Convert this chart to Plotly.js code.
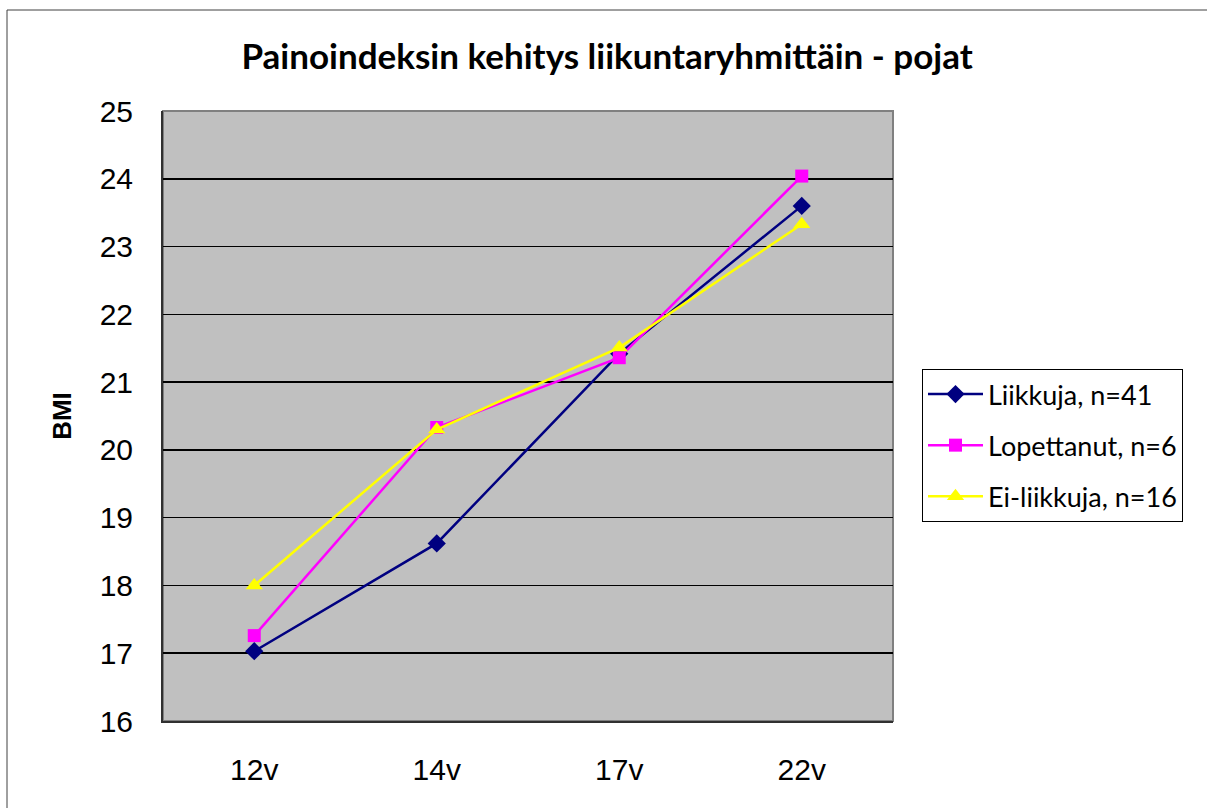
<!DOCTYPE html>
<html>
<head>
<meta charset="utf-8">
<script src="https://cdn.plot.ly/plotly-3.0.1.min.js"></script>
<style>html,body{margin:0;padding:0;background:#fff;}#chart{width:1207px;height:808px;}</style>
</head>
<body>
<div id="chart"></div>
<script>
const categories = ["12v", "14v", "17v", "22v"];
const liikkuja = [17.03, 18.62, 21.42, 23.60];
const lopettanut = [17.26, 20.33, 21.36, 24.04];
const eiLiikkuja = [18.00, 20.30, 21.51, 23.33];
const seriesNames = ["Liikkuja, n=41", "Lopettanut, n=6", "Ei-liikkuja, n=16"];
const yTicks = [16, 17, 18, 19, 20, 21, 22, 23, 24, 25];

const L = 163, R = 314, T = 111, B = 87, W = 730, H = 610;
const px = v => (v - L) / W;
const py = v => (808 - B - v) / H;

const traces = [
  {x: categories, y: liikkuja, name: seriesNames[0], type: 'scatter', mode: 'lines+markers',
   line: {color: '#000080', width: 2.5}, marker: {symbol: 'diamond', size: 14, color: '#000080'}, legendgroup: 'a'},
  {x: categories, y: lopettanut, name: seriesNames[1], type: 'scatter', mode: 'lines+markers',
   line: {color: '#FF00FF', width: 2.5}, marker: {symbol: 'square', size: 13, color: '#FF00FF'}, legendgroup: 'b'},
  {x: categories, y: eiLiikkuja, name: seriesNames[2], type: 'scatter', mode: 'lines+markers',
   line: {color: '#FFFF00', width: 2.5}, marker: {symbol: 'triangle-up', size: 15, color: '#FFFF00'}, legendgroup: 'c'}
];

const layout = {
  width: 1207, height: 808,
  margin: {l: L, r: R, t: T, b: B},
  paper_bgcolor: '#ffffff',
  plot_bgcolor: '#C0C0C0',
  title: {text: '<b>Painoindeksin kehitys liikuntaryhmittäin - pojat</b>',
          font: {family: 'Lato, Carlito, sans-serif', size: 35, color: '#000'},
          x: 0.503, xanchor: 'center', y: 1 - 57/808, yanchor: 'middle'},
  xaxis: {type: 'category', categoryorder: 'array', categoryarray: categories,
          range: [-0.5, 3.5], showgrid: false, zeroline: false,
          showline: true, linecolor: '#303030', linewidth: 2, ticks: '',
          ticklabelstandoff: 21,
          tickfont: {family: 'Liberation Sans, Arial, sans-serif', size: 30, color: '#000'}},
  yaxis: {range: [16, 25], tickvals: yTicks, ticktext: yTicks.map(String),
          showgrid: true, gridcolor: '#000000', gridwidth: 1.5, zeroline: false,
          showline: true, linecolor: '#303030', linewidth: 2, ticks: '',
          ticklabelstandoff: 22,
          tickfont: {family: 'Liberation Sans, Arial, sans-serif', size: 30, color: '#000'},
          title: {text: '<b>BMI</b>', standoff: 21,
                  font: {family: 'Liberation Sans, Arial, sans-serif', size: 26, color: '#000'}}},
  showlegend: true,
  legend: {x: px(922), y: py(369), xanchor: 'left', yanchor: 'top',
           bgcolor: '#ffffff', bordercolor: '#000000', borderwidth: 1,
           traceorder: 'grouped', tracegroupgap: 13, itemwidth: 55,
           font: {family: 'Lato, Carlito, sans-serif', size: 27, color: '#000'}},
  shapes: [
    {type: 'rect', xref: 'paper', yref: 'paper', x0: 0, x1: 1, y0: 0, y1: 1,
     line: {color: '#808080', width: 2}, layer: 'below'},
    {type: 'rect', xref: 'paper', yref: 'paper', x0: px(7), x1: px(1240), y0: py(840), y1: py(10),
     line: {color: '#404040', width: 1}, fillcolor: 'rgba(0,0,0,0)'}
  ]
};

Plotly.newPlot('chart', traces, layout, {displayModeBar: false, staticPlot: true});
</script>
</body>
</html>
